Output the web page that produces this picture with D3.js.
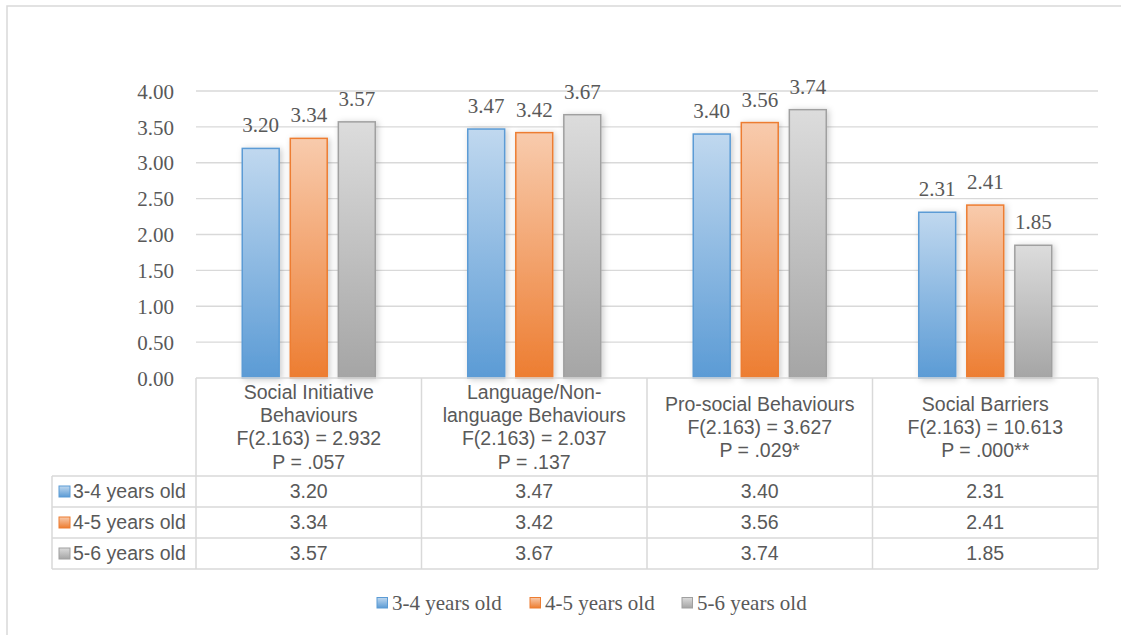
<!DOCTYPE html>
<html>
<head>
<meta charset="utf-8">
<script src="https://cdn.jsdelivr.net/npm/d3@7"></script>
<style>
  html, body { margin: 0; padding: 0; background: #fff; }
  svg { display: block; }
</style>
</head>
<body>
<svg id="chart" width="1121" height="635"></svg>
<script>
// Category header lines (each entry is one cell of the table header)
const categories = [
  ["Social Initiative", "Behaviours", "F(2.163) = 2.932", "P = .057"],
  ["Language/Non-", "language Behaviours", "F(2.163) = 2.037", "P = .137"],
  ["Pro-social Behaviours", "F(2.163) = 3.627", "P = .029*"],
  ["Social Barriers", "F(2.163) = 10.613", "P = .000**"]
];
const seriesNames = ["3-4 years old", "4-5 years old", "5-6 years old"];
const age34 = [3.20, 3.47, 3.40, 2.31];
const age45 = [3.34, 3.42, 3.56, 2.41];
const age56 = [3.57, 3.67, 3.74, 1.85];
const yTicks = [0, 0.5, 1, 1.5, 2, 2.5, 3, 3.5, 4];

const seriesValues = [age34, age45, age56];
const palette = [
  { top: "#c0d8ef", bottom: "#5b9bd5", stroke: "#5b9bd5" },
  { top: "#f8cbad", bottom: "#ed7d31", stroke: "#ed7d31" },
  { top: "#dcdcdc", bottom: "#a5a5a5", stroke: "#a0a0a0" }
];

const svg = d3.select("#chart");
const textColor = "#595959";
const lineColor = "#d9d9d9";
const serif = "'Liberation Serif', 'Times New Roman', serif";
const sans = "'Liberation Sans', Arial, sans-serif";
const serifSize = 21;
const sansSize = 19.5;

// Layout
const plot = { left: 196, right: 1098, top: 91, bottom: 378 };
const table = { labelLeft: 52, headerBottom: 476, rowH: 31 };

const defs = svg.append("defs");
palette.forEach((p, i) => {
  const g = defs.append("linearGradient").attr("id", "grad" + i)
    .attr("x1", 0).attr("y1", 0).attr("x2", 0).attr("y2", 1);
  g.append("stop").attr("offset", "0%").attr("stop-color", p.top);
  g.append("stop").attr("offset", "100%").attr("stop-color", p.bottom);
});
const shadow = defs.append("filter").attr("id", "barShadow")
  .attr("x", "-30%").attr("y", "-10%").attr("width", "160%").attr("height", "120%");
shadow.append("feDropShadow").attr("dx", 2).attr("dy", 1)
  .attr("stdDeviation", 3).attr("flood-color", "#000").attr("flood-opacity", 0.2);

// Outer chart frame
svg.append("rect").attr("x", 7).attr("y", 6).attr("width", 1130).attr("height", 650)
  .attr("fill", "#fff").attr("stroke", lineColor).attr("stroke-width", 1.5);

// Scales
const y = d3.scaleLinear().domain([0, 4]).range([plot.bottom, plot.top]);
const pad = 91 / 225.5;
const x0 = d3.scaleBand().domain(d3.range(categories.length))
  .range([plot.left, plot.right]).paddingInner(pad).paddingOuter(pad / 2);
const x1 = d3.scaleBand().domain(d3.range(seriesNames.length))
  .range([0, x0.bandwidth()]).paddingInner(0.2);
const colStep = x0.step();
const colEdge = i => plot.left + i * colStep;

// Gridlines
svg.append("g").selectAll("line").data(yTicks.filter(t => t > 0)).join("line")
  .attr("x1", plot.left).attr("x2", plot.right)
  .attr("y1", d => y(d)).attr("y2", d => y(d))
  .attr("stroke", lineColor).attr("stroke-width", 1.3);

// Y axis labels
const yAxis = d3.axisLeft(y).tickValues(yTicks).tickFormat(d3.format(".2f")).tickSize(0).tickPadding(0);
const yg = svg.append("g").attr("transform", "translate(174,0)").call(yAxis);
yg.select(".domain").remove();
yg.selectAll("text").attr("font-family", serif).attr("font-size", serifSize)
  .attr("fill", textColor).attr("dy", "0.34em");

// Bars
const groups = svg.append("g").selectAll("g").data(categories.map((c, i) => i)).join("g")
  .attr("transform", i => `translate(${x0(i)},0)`);
groups.selectAll("rect").data(ci => seriesValues.map((s, si) => ({ si, v: s[ci] }))).join("rect")
  .attr("x", d => x1(d.si) + 0.75).attr("width", x1.bandwidth() - 1.5)
  .attr("y", d => y(d.v)).attr("height", d => y(0) - y(d.v))
  .attr("fill", d => `url(#grad${d.si})`)
  .attr("stroke", d => palette[d.si].stroke).attr("stroke-width", 1.5)
  .attr("filter", "url(#barShadow)");
groups.selectAll("text").data(ci => seriesValues.map((s, si) => ({ si, v: s[ci] }))).join("text")
  .attr("x", d => x1(d.si) + x1.bandwidth() / 2).attr("y", d => y(d.v) - 16)
  .attr("text-anchor", "middle").attr("font-family", serif).attr("font-size", serifSize)
  .attr("fill", textColor).text(d => d.v.toFixed(2));

// Data table
const tg = svg.append("g");
const tableBottom = table.headerBottom + table.rowH * seriesNames.length;
const hline = (x1v, x2v, yv) => tg.append("line").attr("x1", x1v).attr("x2", x2v)
  .attr("y1", yv).attr("y2", yv).attr("stroke", lineColor).attr("stroke-width", 1.5);
const vline = (xv, y1v, y2v) => tg.append("line").attr("x1", xv).attr("x2", xv)
  .attr("y1", y1v).attr("y2", y2v).attr("stroke", lineColor).attr("stroke-width", 1.5);

hline(plot.left, plot.right, plot.bottom);
for (let r = 0; r <= seriesNames.length; r++) {
  hline(table.labelLeft, plot.right, table.headerBottom + r * table.rowH);
}
for (let c = 0; c <= categories.length; c++) vline(colEdge(c), plot.bottom, tableBottom);
vline(table.labelLeft, table.headerBottom, tableBottom);

// Header cells
const headerMid = (plot.bottom + table.headerBottom) / 2;
const lineH = 23.3;
categories.forEach((lines, ci) => {
  const cx = colEdge(ci) + colStep / 2;
  const t = tg.append("text").attr("font-family", sans).attr("font-size", sansSize)
    .attr("fill", textColor).attr("text-anchor", "middle");
  lines.forEach((ln, li) => {
    t.append("tspan").attr("x", cx)
      .attr("y", headerMid + (li - (lines.length - 1) / 2) * lineH)
      .attr("dy", "0.35em").text(ln);
  });
});

// Value rows
seriesNames.forEach((name, si) => {
  const cy = table.headerBottom + si * table.rowH + table.rowH / 2;
  tg.append("rect").attr("x", 59).attr("y", cy - 5.5).attr("width", 11).attr("height", 11)
    .attr("fill", `url(#grad${si})`).attr("stroke", palette[si].stroke).attr("stroke-width", 1);
  tg.append("text").attr("x", 73).attr("y", cy).attr("dy", "0.35em")
    .attr("font-family", sans).attr("font-size", sansSize).attr("fill", textColor).text(name);
  seriesValues[si].forEach((v, ci) => {
    tg.append("text").attr("x", colEdge(ci) + colStep / 2).attr("y", cy).attr("dy", "0.35em")
      .attr("text-anchor", "middle").attr("font-family", sans).attr("font-size", sansSize)
      .attr("fill", textColor).text(v.toFixed(2));
  });
});

// Legend
const legendY = 603;
const legendX = [377, 530, 682];
const lg = svg.append("g");
seriesNames.forEach((name, si) => {
  lg.append("rect").attr("x", legendX[si]).attr("y", legendY - 5.5).attr("width", 10.5).attr("height", 10.5)
    .attr("fill", `url(#grad${si})`).attr("stroke", palette[si].stroke).attr("stroke-width", 1);
  lg.append("text").attr("x", legendX[si] + 15).attr("y", legendY).attr("dy", "0.35em")
    .attr("font-family", serif).attr("font-size", serifSize).attr("fill", textColor).text(name);
});
</script>
</body>
</html>
